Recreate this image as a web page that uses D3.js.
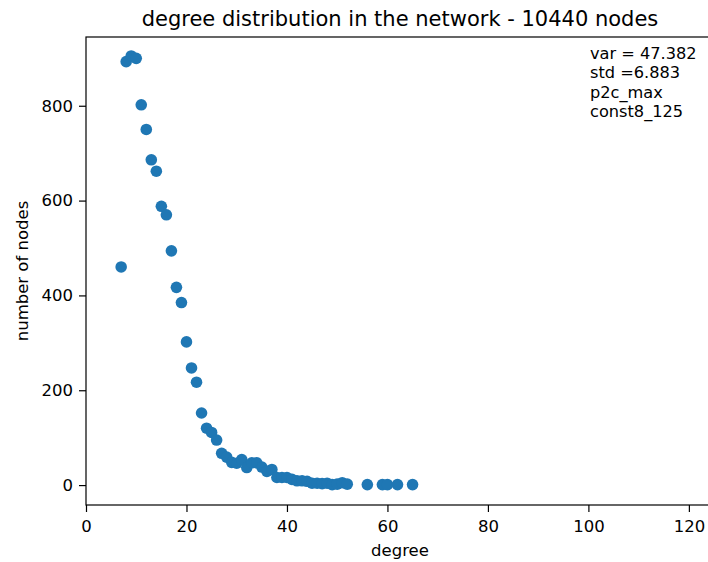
<!DOCTYPE html>
<html>
<head>
<meta charset="utf-8">
<script src="https://cdn.jsdelivr.net/npm/d3@7"></script>
<style>
  body { margin: 0; background: #fff; }
  svg text { font-family: "DejaVu Sans", sans-serif; fill: #000; }
</style>
</head>
<body>
<div class="chart"></div>
<script>
var degrees = [7, 8, 9, 10, 11, 12, 13, 14, 15, 16, 17, 18, 19, 20, 21, 22, 23, 24, 25, 26,
  27, 28, 29, 30, 31, 32, 33, 34, 35, 36, 37, 38, 39, 40, 41, 42, 43, 44, 45, 46,
  47, 48, 49, 50, 51, 52, 56, 59, 60, 62, 65];
var counts = [460, 893, 905, 900, 802, 750, 686, 662, 588, 570, 494, 417, 385, 302, 247, 217, 152, 120, 111, 95,
  67, 59, 48, 46, 54, 37, 47, 47, 38, 29, 33, 16, 16, 16, 12, 9, 9, 8, 4, 4,
  3, 4, 1, 2, 5, 2, 1, 1, 1, 1, 1];
var xTicks = [0, 20, 40, 60, 80, 100, 120];
var yTicks = [0, 200, 400, 600, 800];
var statLines = ["var = 47.382", "std =6.883", "p2c_max", "const8_125"];

var width = 708, height = 562;
var margin = { top: 37, left: 86, right: 714, bottom: 505 };

var svg = d3.select('.chart')
  .append('svg')
    .attr('width', width)
    .attr('height', height);

var xScale = d3.scaleLinear()
  .domain([0, 125])
  .range([margin.left, margin.right]);

var yScale = d3.scaleLinear()
  .domain([-42, 945])
  .range([margin.bottom, margin.top]);

// points
svg.append('g')
  .selectAll('circle')
  .data(degrees)
  .join('circle')
    .attr('cx', d => xScale(d))
    .attr('cy', (d, i) => yScale(counts[i]))
    .attr('r', 5.8)
    .attr('fill', '#1f77b4');

var xAxis = d3.axisBottom(xScale).tickValues(xTicks).tickSize(7).tickPadding(8);
var yAxis = d3.axisLeft(yScale).tickValues(yTicks).tickSize(7).tickPadding(6);

var gx = svg.append('g')
  .attr('transform', `translate(0, ${margin.bottom})`)
  .call(xAxis);
var gy = svg.append('g')
  .attr('transform', `translate(${margin.left}, 0)`)
  .call(yAxis);

[gx, gy].forEach(g => {
  g.select('.domain').remove();
  g.selectAll('.tick line').attr('stroke', '#000').attr('stroke-width', 1.2);
  g.selectAll('.tick text').attr('font-size', 16.5).attr('font-family', '"DejaVu Sans", sans-serif');
});

// frame (right side runs past the window)
svg.append('rect')
  .attr('x', margin.left)
  .attr('y', margin.top)
  .attr('width', margin.right - margin.left)
  .attr('height', margin.bottom - margin.top)
  .attr('fill', 'none')
  .attr('stroke', '#000')
  .attr('stroke-width', 1.2);

svg.append('text')
  .text('degree distribution in the network - 10440 nodes')
  .attr('x', (margin.left + margin.right) / 2)
  .attr('y', 26)
  .attr('text-anchor', 'middle')
  .attr('font-size', 21);

svg.append('text')
  .text('degree')
  .attr('x', (margin.left + margin.right) / 2)
  .attr('y', 556)
  .attr('text-anchor', 'middle')
  .attr('font-size', 16.5);

svg.append('text')
  .text('number of nodes')
  .attr('transform', `translate(28, ${(margin.top + margin.bottom) / 2}) rotate(-90)`)
  .attr('text-anchor', 'middle')
  .attr('font-size', 16.5);

svg.append('g')
  .selectAll('text')
  .data(statLines)
  .join('text')
    .text(d => d)
    .attr('x', 590)
    .attr('y', (d, i) => 59 + i * 19.3)
    .attr('font-size', 16.2);
</script>
</body>
</html>
